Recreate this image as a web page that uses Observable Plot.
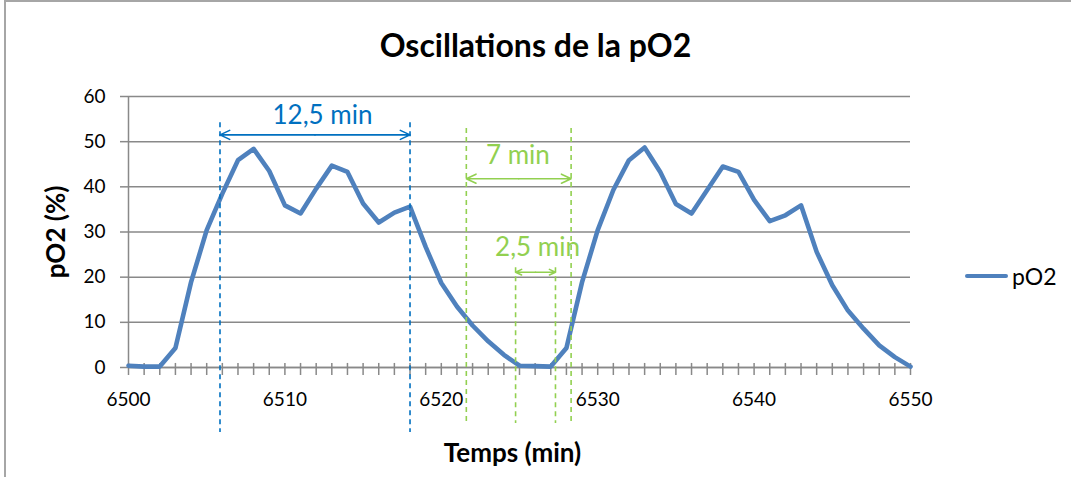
<!DOCTYPE html>
<html><head><meta charset="utf-8">
<script src="https://cdn.jsdelivr.net/npm/d3@7"></script>
<script src="https://cdn.jsdelivr.net/npm/@observablehq/plot@0.6"></script>
<style>
body{margin:0;background:#fff;font-family:Lato,sans-serif;}
#wrap{position:relative;width:1071px;height:477px;overflow:hidden;background:#fff;}
#border{position:absolute;left:4px;top:0;width:1100px;height:520px;border:2px solid #a6a6a6;box-sizing:border-box;pointer-events:none;}
#title{height:80px;padding-top:28px;box-sizing:border-box;text-align:center;font-weight:bold;font-size:32px;line-height:34px;color:#000;}
#legend{position:absolute;left:965px;top:262px;height:28px;display:flex;align-items:center;font-size:23px;color:#000;}
#legend .sw{width:43px;height:4.5px;background:#4F81BD;border-radius:2px;margin-right:4px;}
svg{display:block;}
</style>
</head><body>
<div id="wrap">
<div id="border"></div>
<div id="title">Oscillations de la pO2</div>
<div id="chart"></div>
<div id="legend"><div class="sw"></div><span>pO2</span></div>
</div>
<script>
// Data
const time = [6500,6501,6502,6503,6504,6505,6506,6507,6508,6509,6510,6511,6512,6513,6514,6515,6516,6517,6518,6519,6520,6521,6522,6523,6524,6525,6526,6527,6528,6529,6530,6531,6532,6533,6534,6535,6536,6537,6538,6539,6540,6541,6542,6543,6544,6545,6546,6547,6548,6549,6550];
const pO2 = [0.4,0.2,0.2,4.3,18.9,30.4,38.5,45.9,48.4,43.5,35.9,34.1,39.6,44.7,43.3,36.3,32.1,34.3,35.6,26.7,18.7,13.5,9.3,5.8,2.8,0.4,0.3,0.2,4.3,18.9,30.4,39.3,45.9,48.7,43.3,36.2,34.1,39.3,44.5,43.3,37.1,32.4,33.7,35.9,25.6,18.2,12.6,8.6,4.9,2.3,0.2];
const xTickLabels = [6500,6510,6520,6530,6540,6550];
const yTicks = [0,10,20,30,40,50,60];
// Annotations
const blueLines = [6505.85, 6518];
const greenOuterLines = [6521.6, 6528.3];
const greenInnerLines = [6524.75, 6527.3];
const arrows = [
  {x1:6505.85, x2:6518, y:51.5, c:"#0070C0"},
  {x1:6521.6, x2:6528.3, y:41.8, c:"#92D050"},
  {x1:6524.75, x2:6527.3, y:21.1, c:"#92D050"}
];
const labels = [
  {x:6512.4, y:55.8, text:"12,5 min", c:"#0070C0"},
  {x:6524.9, y:46.9, text:"7 min", c:"#92D050"},
  {x:6526.15, y:26.6, text:"2,5 min", c:"#92D050"}
];

const rows = time.map((t,i)=>({t, v:pO2[i]}));
const minorTicks = d3.range(time[0], time[time.length-1]+1);
const grid = "#898989";
// each double arrow drawn as two single-headed halves from its midpoint
const halves = arrows.flatMap(a => {
  const m = (a.x1 + a.x2) / 2;
  return [{xa:m, xb:a.x1, y:a.y, c:a.c}, {xa:m, xb:a.x2, y:a.y, c:a.c}];
});

const chart = Plot.plot({
  width:1071, height:397,
  marginTop:16, marginBottom:110, marginLeft:128, marginRight:161,
  style:{fontFamily:"Lato, sans-serif", fontSize:"19px", color:"#000", background:"transparent", overflow:"visible"},
  x:{domain:[6500,6550]},
  y:{domain:[0,60]},
  marks:[
    Plot.gridY(yTicks, {stroke:grid, strokeOpacity:1, strokeWidth:1.5}),
    Plot.axisY(yTicks, {tickSize:8, tickPadding:15, stroke:grid, strokeWidth:1.5, label:null, fontSize:19}),
    Plot.axisX(minorTicks, {tickSize:8, tickPadding:17, stroke:grid, strokeWidth:1.5, label:null, fontSize:19,
      tickFormat:d => xTickLabels.includes(d) ? String(d) : ""}),
    Plot.ruleX(minorTicks, {x:d=>d, y1:0, y2:0.9, stroke:grid, strokeWidth:1.5}),
    Plot.ruleY([0], {stroke:grid, strokeWidth:1.5}),
    Plot.ruleX([6500], {y1:0, y2:60, stroke:grid, strokeWidth:1.5}),
    Plot.line(rows, {x:"t", y:"v", stroke:"#4F81BD", strokeWidth:4.6, strokeLinejoin:"round"}),
    Plot.ruleX(blueLines, {x:d=>d, y1:54.2, y2:-14.4, stroke:"#0070C0", strokeWidth:1.6, strokeDasharray:"5,4"}),
    Plot.ruleX(greenOuterLines, {x:d=>d, y1:52.9, y2:-12.8, stroke:"#92D050", strokeWidth:1.6, strokeDasharray:"5,4"}),
    Plot.ruleX(greenInnerLines, {x:d=>d, y1:22.1, y2:-12.4, stroke:"#92D050", strokeWidth:1.6, strokeDasharray:"5,4"}),
    Plot.arrow(halves, {x1:"xa", x2:"xb", y1:"y", y2:"y", stroke:d=>d.c, strokeWidth:1.6, headLength:10, headAngle:50}),
    Plot.text(labels, {x:"x", y:"y", text:"text", fill:d=>d.c, fontSize:26}),
    Plot.text(["Temps (min)"], {text:d=>d, frameAnchor:"bottom", textAnchor:"middle", lineAnchor:"middle", dx:-7, dy:86, fontWeight:"bold", fontSize:26}),
    Plot.text(["pO2 (%)"], {text:d=>d, frameAnchor:"left", textAnchor:"middle", lineAnchor:"middle", rotate:-90, dx:-72, fontWeight:"bold", fontSize:26})
  ]
});
document.getElementById("chart").appendChild(chart);
</script>
</body></html>
